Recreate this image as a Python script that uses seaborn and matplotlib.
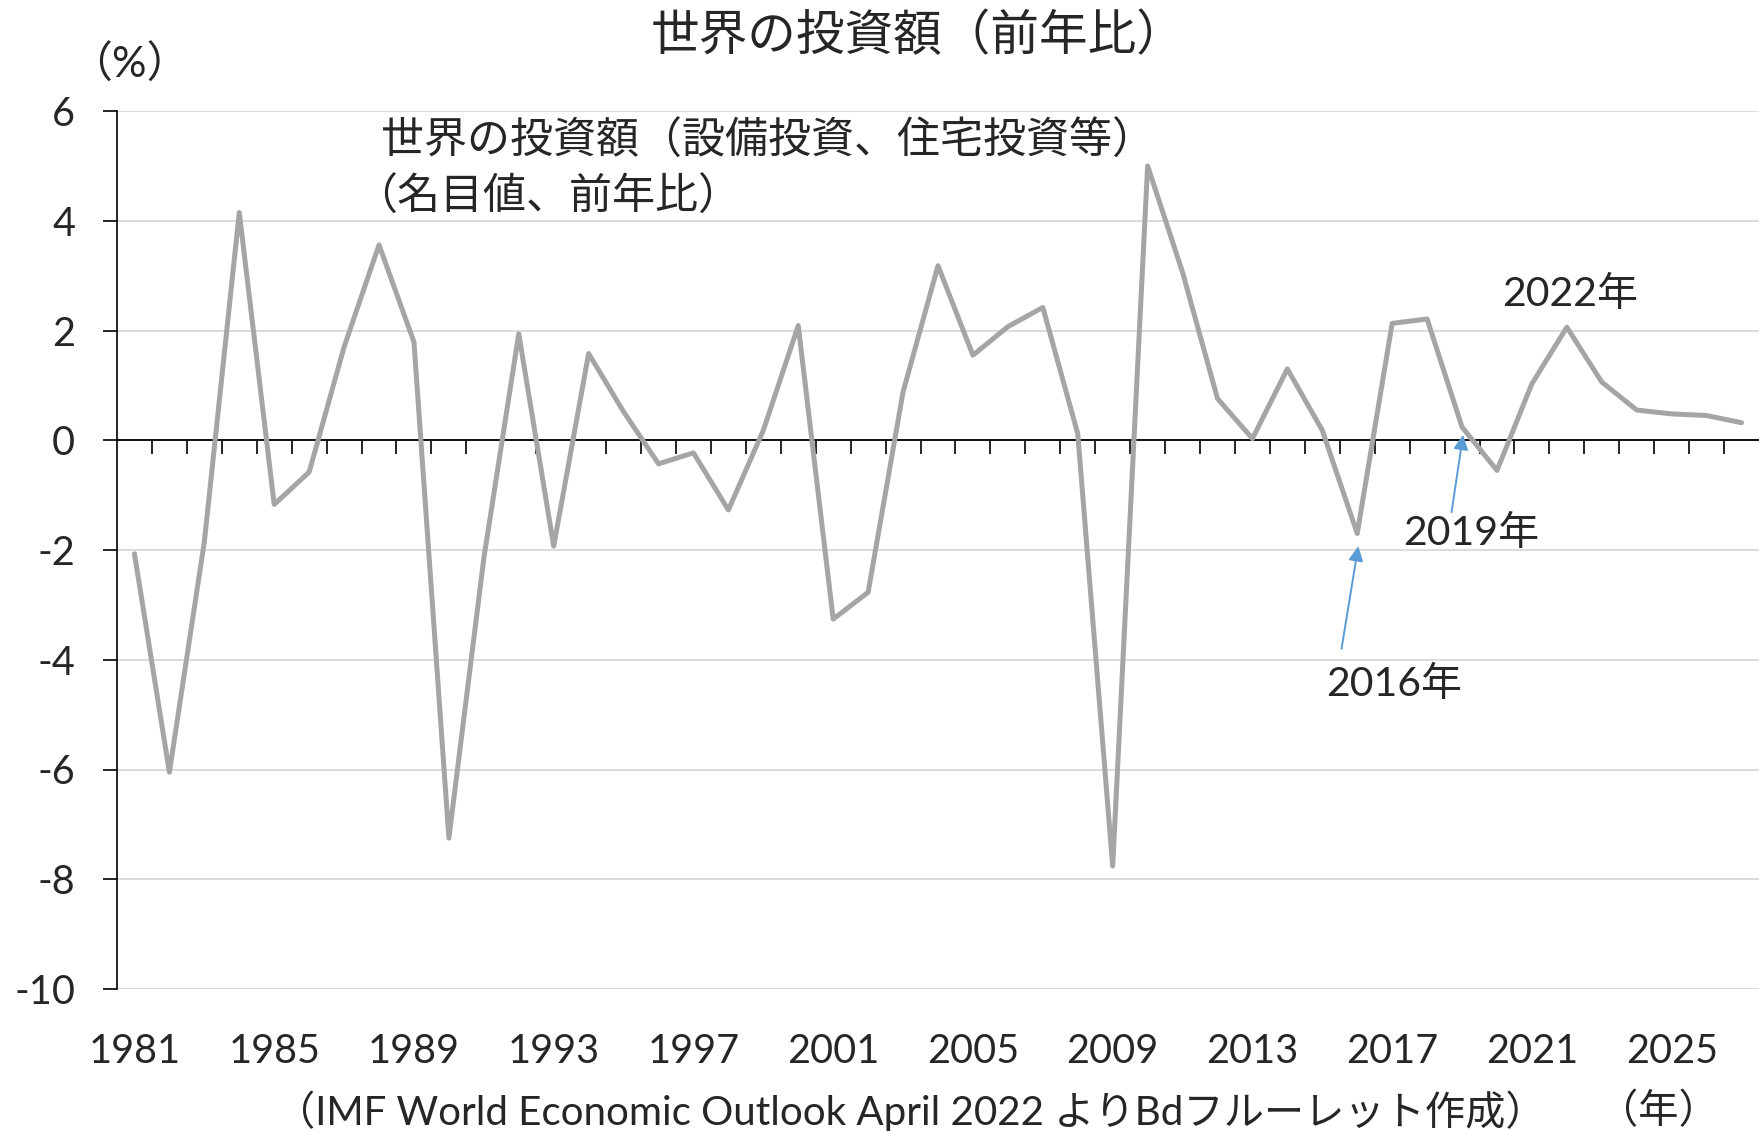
import numpy as np
import pandas as pd
import seaborn as sns
import matplotlib.pyplot as plt

# 世界の投資額（前年比、%）
years = list(range(1981, 2028))
growth = [-2.07, -6.05, -1.85, 4.15, -1.17, -0.58, 1.70, 3.56, 1.79, -7.25,
          -2.15, 1.94, -1.93, 1.58, 0.52, -0.43, -0.23, -1.27, 0.18, 2.09,
          -3.26, -2.77, 0.88, 3.18, 1.55, 2.07, 2.42, 0.12, -7.76, 5.00,
          3.06, 0.76, 0.03, 1.30, 0.18, -1.70, 2.13, 2.21, 0.24, -0.55,
          1.03, 2.06, 1.06, 0.55, 0.48, 0.45, 0.32]
year_labels = list(range(1981, 2026, 4))
y_ticks = [6, 4, 2, 0, -2, -4, -6, -8, -10]

df = pd.DataFrame({"year": years, "growth": growth})

sns.set_style("white")
plt.rcParams['font.family'] = ['Lato', 'Noto Sans CJK JP', 'DejaVu Sans']
plt.rcParams['axes.unicode_minus'] = False
cjk = ['Noto Sans CJK JP', 'DejaVu Sans']

fig = plt.figure(figsize=(17.59, 11.31), dpi=100)
ax = fig.add_axes([117 / 1759, 1 - 989 / 1131, 1 - 117 / 1759, (989 - 111) / 1131])

sns.lineplot(data=df, x="year", y="growth", color="#a5a5a5", lw=3.6, ax=ax, zorder=3)

ax.set_xlim(1980.5, 2027.5)
ax.set_ylim(-10, 6)
ax.set_yticks(y_ticks)
ax.set_yticklabels([str(v) for v in y_ticks])
ax.set_xticks(year_labels)
ax.set_xticklabels([str(y) for y in year_labels])
ax.set_xlabel("")
ax.set_ylabel("")

ax.yaxis.grid(True, color="#d9d9d9", lw=1.3)
ax.xaxis.grid(False)
for s in ["top", "right", "bottom"]:
    ax.spines[s].set_visible(False)
ax.spines["left"].set_color("black")
ax.spines["left"].set_linewidth(1.2)
ax.tick_params(axis="y", direction="out", length=10, width=1.2, color="black",
               labelsize=28.5, pad=20, left=True)
ax.tick_params(axis="x", length=0, labelsize=28.5, pad=32)

# 0の横軸と目盛り
ax.axhline(0, color="black", lw=1.3, zorder=2)
zero_pos = (0 - (-10)) / 16
sec = ax.secondary_xaxis(zero_pos)
sec.set_xticks(np.arange(1981.5, 2027.5, 1))
sec.tick_params(axis="x", direction="in", length=10, width=1.2, color="black",
                labeltop=False, labelbottom=False)
sec.spines["top"].set_color("black")
sec.spines["top"].set_linewidth(1.2)

# 注記
ax.text(1988.05, 5.43, "世界の投資額（設備投資、住宅投資等）",
        ha="left", va="center", fontsize=31, family=cjk)
ax.text(1987.3, 4.41, "（名目値、前年比）",
        ha="left", va="center", fontsize=31, family=cjk)

arrow_kw = dict(arrowstyle="-|>", color="#5b9bd5", lw=1.4, mutation_scale=22,
                shrinkA=0, shrinkB=0)
ax.annotate("", xy=(2016.03, -1.93), xytext=(2015.55, -3.80), arrowprops=arrow_kw)
ax.annotate("", xy=(2019.03, 0.10), xytext=(2018.70, -1.31), arrowprops=arrow_kw)
ax.text(2017.05, -4.45, "2016年", ha="center", va="center", fontsize=29.5)
ax.text(2019.25, -1.70, "2019年", ha="center", va="center", fontsize=29.5)
ax.text(2022.1, 2.65, "2022年", ha="center", va="center", fontsize=29.5)

fig.text(918 / 1759, 1 - 36 / 1131, "世界の投資額（前年比）", ha="center", va="center",
         fontsize=35, family=cjk)
fig.text(129 / 1759, 1 - 64 / 1131, "（%）", ha="center", va="center", fontsize=31)
fig.text(910 / 1759, 1 - 1111 / 1131,
         "（IMF World Economic Outlook April 2022 よりBdフルーレット作成）",
         ha="center", va="center", fontsize=29)
fig.text(1658 / 1759, 1 - 1111 / 1131, "（年）", ha="center", va="center", fontsize=29)

fig.savefig("out.png", dpi=100)
